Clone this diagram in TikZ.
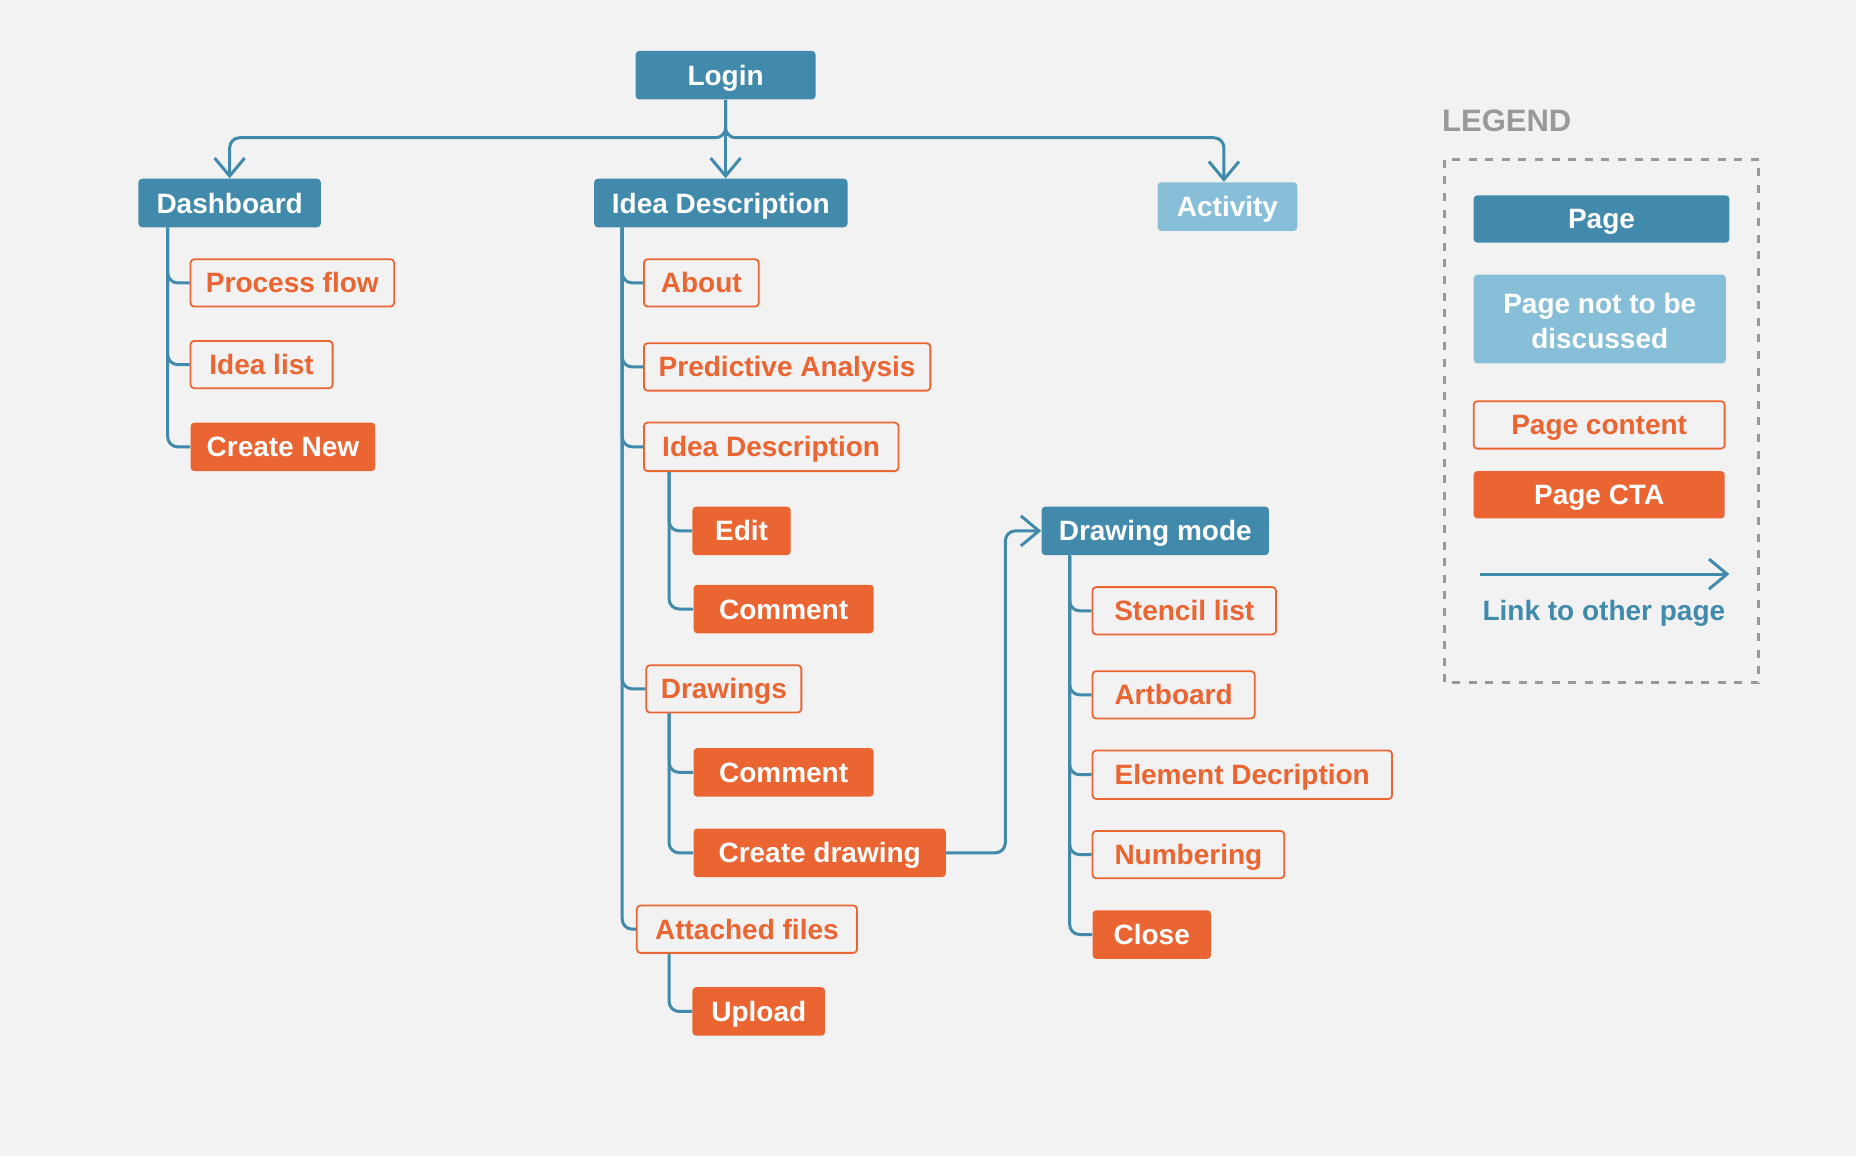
\documentclass[tikz,border=0pt]{standalone}
\usepackage{fontspec}
\setmainfont{Liberation Sans}
\usetikzlibrary{arrows.meta,calc}

\definecolor{pageblue}{RGB}{66,138,171}
\definecolor{lightblue}{RGB}{136,191,216}
\definecolor{ctaorange}{RGB}{234,101,50}
\definecolor{bggray}{RGB}{242,242,242}
\definecolor{legendgray}{RGB}{153,153,153}

% place a box by its left, right, top and bottom edges
\newcommand\mybox[7]{%
  \node[#2, minimum width={(#4-#3)*0.5918pt}, minimum height={(#6-#5)*0.5918pt}]
    (#1) at ({(#3+#4)/2},{(#5+#6)/2}) {#7};}

\tikzset{
  boxbase/.style={rectangle, rounded corners=1.8pt, inner sep=0pt, align=center,
    text height=10pt, text depth=0pt,
    font=\bfseries\fontsize{14}{17.8}\selectfont},
  pagebox/.style={boxbase, fill=pageblue, text=white},
  hiddenbox/.style={boxbase, fill=lightblue, text=white},
  contentbox/.style={boxbase, draw=ctaorange, line width=0.9pt, text=ctaorange},
  ctabox/.style={boxbase, fill=ctaorange, text=white},
  tree/.style={draw=pageblue, line width=1.5pt, rounded corners=5pt},
  link/.style={tree, -{Straight Barb[length=9pt,width=15pt,line width=1.5pt]}},
}

\begin{document}
\begin{tikzpicture}[x=0.5918pt, y=-0.5918pt]
\path[use as bounding box, fill=bggray] (0,0) rectangle (1568,977);

% pages
\mybox{login}{pagebox}{537}{689}{43}{84}{Login}
\mybox{dash}{pagebox}{117}{271}{151}{192}{Dashboard}
\mybox{idea}{pagebox}{502}{716}{151}{192}{Idea Description}
\mybox{act}{hiddenbox}{978}{1096}{154}{195}{Activity}
\mybox{dm}{pagebox}{880}{1072}{428}{469}{Drawing mode}

% dashboard content
\mybox{pf}{contentbox}{161}{333}{219}{259}{Process flow}
\mybox{il}{contentbox}{161}{281}{288}{328}{Idea list}
\mybox{cn}{ctabox}{161}{317}{357}{398}{Create New}

% idea description content
\mybox{about}{contentbox}{544}{641}{219}{259}{About}
\mybox{pa}{contentbox}{544}{786}{290}{330}{Predictive Analysis}
\mybox{idc}{contentbox}{544}{759}{357}{398}{Idea Description}
\mybox{edit}{ctabox}{585}{668}{428}{469}{Edit}
\mybox{com}{ctabox}{586}{738}{494}{535}{Comment}
\mybox{drw}{contentbox}{546}{677}{562}{602}{Drawings}
\mybox{comb}{ctabox}{586}{738}{632}{673}{Comment}
\mybox{cd}{ctabox}{586}{799}{700}{741}{Create drawing}
\mybox{af}{contentbox}{538}{724}{765}{805}{Attached files}
\mybox{up}{ctabox}{585}{697}{834}{875}{Upload}

% drawing mode content
\mybox{sl}{contentbox}{923}{1078}{496}{536}{Stencil list}
\mybox{ab}{contentbox}{923}{1060}{567}{607}{Artboard}
\mybox{ed}{contentbox}{923}{1176}{634}{675}{Element Decription}
\mybox{nb}{contentbox}{923}{1085}{702}{742}{Numbering}
\mybox{cl}{ctabox}{923}{1023}{769}{810}{Close}

% links from login
\draw[link] (login.south) -- ++(0,32) -| (dash.north);
\draw[link] (login.south) -- (login.south |- idea.north);
\draw[link] (login.south) -- ++(0,32) -| ($(act.north)+(-3,0)$);

% dashboard tree
\foreach \c in {pf,il,cn}
  \draw[tree] ($(dash.south west)+(25,0)$) |- (\c.west);

% idea description tree
\foreach \c in {about,pa,idc,drw,af}
  \draw[tree] ($(idea.south west)+(24,0)$) |- (\c.west);
\foreach \c in {edit,com}
  \draw[tree] ($(idc.south west)+(22,0)$) |- (\c.west);
\foreach \c in {comb,cd}
  \draw[tree] ($(drw.south west)+(20,0)$) |- (\c.west);
\draw[tree] ($(af.south west)+(28,0)$) |- (up.west);

% drawing mode tree
\foreach \c in {sl,ab,ed,nb,cl}
  \draw[tree] ($(dm.south west)+(24,0)$) |- (\c.west);

% link to drawing mode
\draw[link] (cd.east) -- ($(cd.east)+(50,0)$) |- (dm.west);

% legend
\node[anchor=west, text=legendgray, font=\bfseries\fontsize{15.5}{18}\selectfont, inner sep=0pt]
  (lgtitle) at (1218,102) {LEGEND};
\draw[legendgray, line width=1.5pt, dash pattern=on 4pt off 4.3pt] (1220,135) rectangle (1486,577);
\mybox{lpage}{pagebox}{1245}{1461}{165}{205}{Page}
\mybox{lhidden}{hiddenbox, text height=, text depth=}{1245}{1458}{232}{307}{\raisebox{0pt}[12pt][4pt]{Page not to be}\\discussed}
\mybox{lcontent}{contentbox}{1245}{1457}{339}{379}{Page content}
\mybox{lcta}{ctabox}{1245}{1457}{398}{438}{Page CTA}
\coordinate (la) at (1250,485);
\coordinate (lb) at (1461,485);
\draw[link] (la) -- (lb);
\node[text=pageblue, font=\bfseries\fontsize{14}{17}\selectfont, inner sep=0pt]
  (llink) at (1355,518) {Link to other page};
\end{tikzpicture}
\end{document}
